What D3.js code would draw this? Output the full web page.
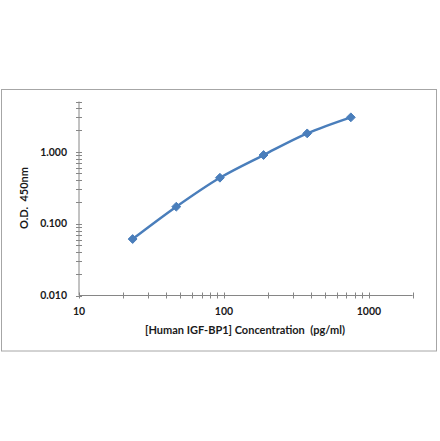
<!DOCTYPE html>
<html><head><meta charset="utf-8">
<script src="https://cdn.jsdelivr.net/npm/d3@7"></script>
<style>
html,body{margin:0;padding:0;background:#fff;}
svg text{font-family:Lato,"Open Sans",sans-serif;font-weight:bold;fill:#1a1a1a;}
</style></head>
<body>
<svg id="c" width="440" height="441"></svg>
<script>
const concentrations = [23.44, 46.88, 93.75, 187.5, 375, 750];
const odValues = [0.061, 0.172, 0.435, 0.90, 1.80, 3.01];
const xTickLabels = [10, 100, 1000];
const yTickLabels = [0.01, 0.1, 1];
const xTitle = "[Human IGF-BP1] Concentration  (pg/ml)";
const yTitle = "O.D.  450nm";

const svg = d3.select("#c");
// chart frame
svg.append("rect").attr("x",1.5).attr("y",89.5).attr("width",435).attr("height",261.5)
  .attr("fill","#fff").attr("stroke","#a6a6a6").attr("stroke-width",1);

const x = d3.scaleLog().domain([10,2000]).range([79,412.6]);
const y = d3.scaleLog().domain([0.01,5]).range([295.5,101.5]);
const axisColor = "#868686";

const g = svg.append("g");
// axes lines
g.append("line").attr("x1",x(10)).attr("x2",x(2000)).attr("y1",y(0.01)).attr("y2",y(0.01))
  .attr("stroke",axisColor).attr("stroke-width",1);
g.append("line").attr("x1",x(10)).attr("x2",x(10)).attr("y1",y(0.01)).attr("y2",y(5))
  .attr("stroke",axisColor).attr("stroke-width",1);

// ticks (crossing)
const xTicks = x.ticks().filter(v=>v>=10 && v<=2000);
g.selectAll(".xt").data(xTicks).join("line")
  .attr("x1",d=>Math.round(x(d))+0.5).attr("x2",d=>Math.round(x(d))+0.5)
  .attr("y1",y(0.01)-3).attr("y2",y(0.01)+3)
  .attr("stroke",axisColor).attr("stroke-width",1);
const yTicks = y.ticks().filter(v=>v>=0.01 && v<=5.0001);
g.selectAll(".yt").data(yTicks).join("line")
  .attr("y1",d=>Math.round(y(d))+0.5).attr("y2",d=>Math.round(y(d))+0.5)
  .attr("x1",x(10)-3).attr("x2",x(10)+3)
  .attr("stroke",axisColor).attr("stroke-width",1);

// tick labels
g.selectAll(".xl").data(xTickLabels).join("text")
  .attr("x",d=>x(d)).attr("y",315).attr("text-anchor","middle")
  .attr("font-size","10.5px").text(d=>d);
g.selectAll(".yl").data(yTickLabels).join("text")
  .attr("x",67).attr("y",d=>y(d)+3.8).attr("text-anchor","end")
  .attr("font-size","10.5px").text(d=>d3.format(".3f")(d));

// titles
svg.append("text").attr("x",245).attr("y",333.5).attr("text-anchor","middle")
  .attr("font-size","11px").style("white-space","pre").text(xTitle);
svg.append("text").attr("transform","translate(28,198) rotate(-90)").attr("text-anchor","middle")
  .attr("font-size","11px").style("white-space","pre").text(yTitle);

// line
const pts = concentrations.map((c,i)=>[x(c),y(odValues[i])]);
const lineColor = "#4a7ebb";
svg.append("path").attr("d",d3.line().curve(d3.curveCatmullRom.alpha(0.5))(pts))
  .attr("fill","none").attr("stroke",lineColor).attr("stroke-width",2.5);
svg.selectAll(".pt").data(pts).join("path")
  .attr("transform",d=>`translate(${d[0]},${d[1]})`)
  .attr("d",d3.symbol().type(d3.symbolDiamond2).size(50))
  .attr("fill",lineColor).attr("stroke",lineColor).attr("stroke-width",1);
</script>
</body></html>
